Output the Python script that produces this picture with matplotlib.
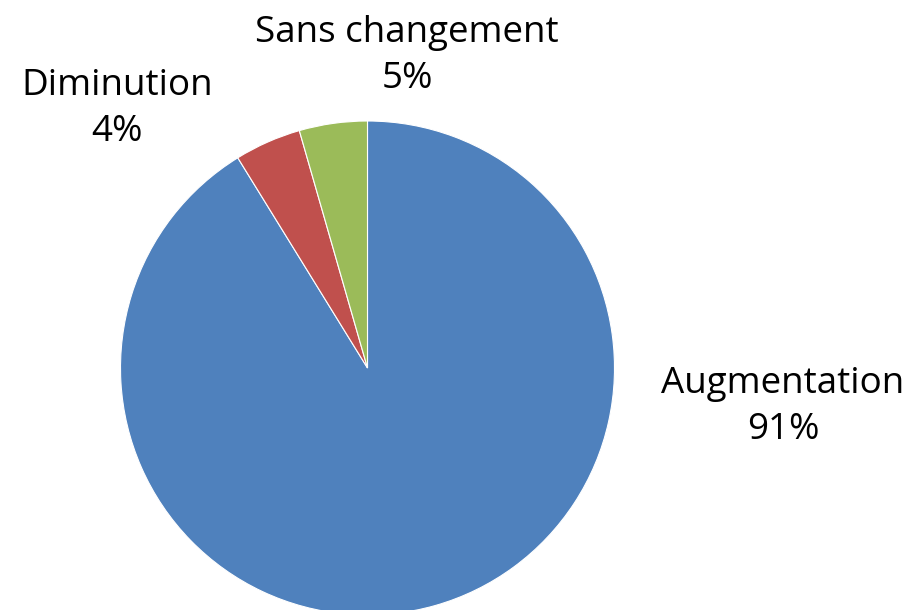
import matplotlib
matplotlib.use("Agg")
import matplotlib.pyplot as plt

categories = ["Augmentation", "Diminution", "Sans changement"]
values = [91.2, 4.35, 4.45]
pct_labels = ["91%", "4%", "5%"]
colors = ["#4F81BD", "#C0504D", "#9BBB59"]

W, H = 913, 610
cx, cy, r = 367.5, 368.0, 247.0

fig = plt.figure(figsize=(W / 100, H / 100), dpi=100)
ax = fig.add_axes([0, 0, 1, 1])
ax.pie(values, colors=colors, startangle=90, counterclock=False, radius=1,
       center=(0, 0), wedgeprops=dict(edgecolor="white", linewidth=0.8))
ax.set_xlim(-cx / r, (W - cx) / r)
ax.set_ylim(-(H - cy) / r, cy / r)
ax.set_aspect("equal")
ax.axis("off")

label_px = {"Augmentation": (783, 407), "Diminution": (117, 109), "Sans changement": (407, 56)}
for cat, lab in zip(categories, pct_labels):
    px, py = label_px[cat]
    ax.text((px - cx) / r, (cy - py) / r, f"{cat}\n{lab}",
            ha="center", va="center", fontsize=26.5, family="Open Sans",
            linespacing=1.38, color="black")

fig.savefig("out.png", dpi=100)
